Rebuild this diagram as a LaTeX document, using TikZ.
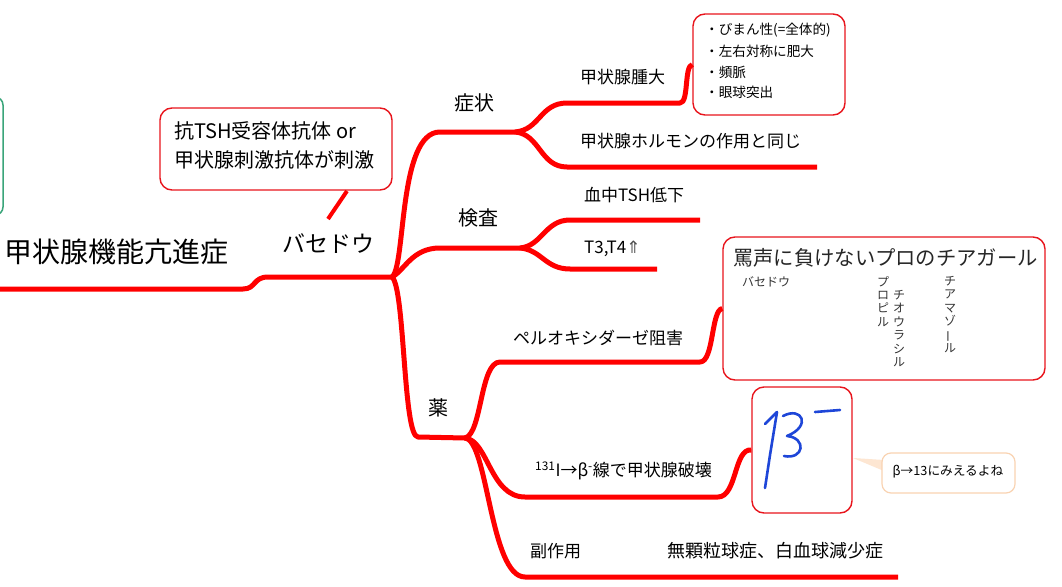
\documentclass[tikz,border=0pt]{standalone}
\usepackage{fontspec}
\setmainfont{Noto Sans CJK JP}
\newfontfamily\dejavu{DejaVu Sans}
\usetikzlibrary{calc}
\definecolor{mmred}{HTML}{FF0000}
\definecolor{boxred}{HTML}{E8141C}
\definecolor{mmgreen}{HTML}{3AA57A}
\definecolor{pen}{HTML}{1E46D8}
\definecolor{peach}{HTML}{F9D3B2}
\definecolor{peachfill}{HTML}{FDE6D2}
\newcommand{\fsz}[2]{\fontsize{#1}{#2}\selectfont}
\begin{document}
\begin{tikzpicture}[x=1pt,y=-1pt,
  branch/.style={draw=mmred, line width=5pt, line join=round},
  lbl/.style={anchor=west, inner sep=0pt, text=black},
  rbox/.style={draw=boxred, line width=1.4pt, rounded corners=12pt, fill=white, inner sep=0pt},
  penline/.style={draw=pen, line width=2.6pt, line cap=round, line join=round}]
\useasboundingbox (0,0) rectangle (1062,586);
\fill[white] (0,0) rectangle (1062,586);

% green box at left edge
\draw[mmgreen, line width=1.5pt, rounded corners=8pt] (-30,97) rectangle (3,215);

% boxes
\node[rbox, minimum width=152, minimum height=101] (sb) at (769,64.5) {};
\node[rbox, minimum width=232, minimum height=82] (cb) at (276,149) {};
\node[rbox, minimum width=322, minimum height=143] (mb) at (884,308.5) {};
\node[rbox, minimum width=100, minimum height=126] (ib) at (802,450) {};

% comment box with pointer
\coordinate (kp) at (853,458);
\fill[peachfill] (kp) -- (884,460) -- (884,471) -- cycle;
\node[draw=peach, line width=1.2pt, rounded corners=9pt, fill=white, minimum width=133, minimum height=40, inner sep=0pt] (kb) at (948.5,473) {};
\node[inner sep=0pt, font=\fsz{12.7}{15}] (kbt) at (948,472) {β→13にみえるよね};

% root and main branches
\coordinate (r0) at (0,289);
\coordinate (r1) at (243,289);
\coordinate (hub) at (392,277);
\draw[branch] (r0) -- (r1) .. controls (256,289) and (253,277) .. (268,277) -- (hub);

\coordinate (sj) at (515,132);
\coordinate (kj) at (520,248);
\coordinate (yj) at (465,438);
\coordinate (e1) at (817,167);
\coordinate (e2) at (700,220);
\coordinate (e3) at (657,269);
\coordinate (e4) at (898,577);

\draw[branch] (hub) .. controls (406,266) and (398,132) .. (440,132) -- (sj);
\draw[branch] (sj) .. controls (540,130) and (540,103) .. (567,103) -- (680,103) .. controls (689,103) and (684,66) .. (sb.west);
\draw[branch] (sj) .. controls (540,134) and (540,167) .. (567,167) -- (e1);

\draw[branch] (hub) .. controls (405,270) and (412,248) .. (440,248) -- (kj);
\draw[branch] (kj) .. controls (542,246) and (545,220) .. (570,220) -- (e2);
\draw[branch] (kj) .. controls (542,250) and (545,269) .. (570,269) -- (e3);

\draw[branch] (hub) .. controls (405,288) and (403,437) .. (418,437) -- (yj);
\draw[branch] (yj) .. controls (482,434) and (480,362) .. (500,362) -- (700,362) .. controls (714,362) and (711,310) .. (mb.west);
\draw[branch] (yj) .. controls (488,440) and (490,497) .. (525,497) -- (718,497) .. controls (737,497) and (734,448) .. (ib.west);
\draw[branch] (yj) .. controls (488,440) and (490,577) .. (525,577) -- (e4);

% callout connector
\coordinate (cf) at (347,191);
\coordinate (bt) at (328,219);
\draw[draw=mmred, line width=4pt] (cf) -- (bt);

% texts
\node[lbl, font=\fsz{28}{32}] (root) at (4,252) {甲状腺機能亢進症};
\node[inner sep=0pt, font=\fsz{23}{26}] (bsd) at (328,244) {バセドウ};
\node[lbl, font=\fsz{20}{24}] (cb1) at (174,131) {抗TSH受容体抗体 or};
\node[lbl, font=\fsz{20}{24}] (cb2) at (174,160) {甲状腺刺激抗体が刺激};

\node[inner sep=0pt, font=\fsz{20}{24}] (shojo) at (474,103) {症状};
\node[inner sep=0pt, font=\fsz{20}{24}] (kensa) at (478,218) {検査};
\node[inner sep=0pt, font=\fsz{20}{24}] (kusuri) at (438,408) {薬};

\node[lbl, font=\fsz{17}{20}] (t1) at (580,77) {甲状腺腫大};
\node[lbl, font=\fsz{17}{20}] (t2) at (580,141) {甲状腺ホルモンの作用と同じ};
\node[lbl, font=\fsz{17}{20}] (t3) at (584,195) {血中TSH低下};
\node[lbl, font=\fsz{17}{20}] (t4) at (584,249) {T3,T4{\dejavu\color{black!70}⇑}};
\node[lbl, font=\fsz{17}{20}] (t5) at (513,338) {ペルオキシダーゼ阻害};
\node[lbl, font=\fsz{17}{20}] (t6) at (535,471) {\textsuperscript{131}I→β\textsuperscript{-}線で甲状腺破壊};
\node[lbl, font=\fsz{17}{20}] (t7) at (530,551) {副作用};
\node[lbl, font=\fsz{18}{20}] (t8) at (667,551) {無顆粒球症、白血球減少症};

% symptom list
\node[lbl, font=\fsz{13.6}{16}] (s1) at (705,30) {・びまん性(=全体的)};
\node[lbl, font=\fsz{13.6}{16}] (s2) at (705,51) {・左右対称に肥大};
\node[lbl, font=\fsz{13.6}{16}] (s3) at (705,72) {・頻脈};
\node[lbl, font=\fsz{13.6}{16}] (s4) at (705,92) {・眼球突出};

% mnemonic
\node[lbl, font=\fsz{20.3}{24}, text=black!85] (m0) at (733,258) {罵声に負けないプロのチアガール};
\node[lbl, font=\fsz{12}{14}, text=black!80] (m1) at (742,282) {バセドウ};
\node[anchor=north, inner sep=0pt, align=center, font=\fsz{12}{13.4}, text=black!80] (m2) at (883,276) {プ\\ロ\\ピ\\ル};
\node[anchor=north, inner sep=0pt, align=center, font=\fsz{12}{13.4}, text=black!80] (m3) at (899,290) {チ\\オ\\ウ\\ラ\\シ\\ル};
\node[anchor=north, inner sep=0pt, align=center, font=\fsz{12}{13.4}, text=black!80] (m4) at (950,276) {チ\\ア\\マ\\ゾ\\\rotatebox[origin=c]{90}{ー}\\ル};

% handwritten beta
\draw[penline] (765,488) -- (770,455) -- (777,412);
\draw[penline] (765,424) -- (777,412);
\draw[penline] (783,416) .. controls (802,406) and (812,426) .. (787,436) .. controls (807,438) and (804,460) .. (784,456);
\draw[penline] (815,412) -- (840,410);
\end{tikzpicture}
\end{document}
